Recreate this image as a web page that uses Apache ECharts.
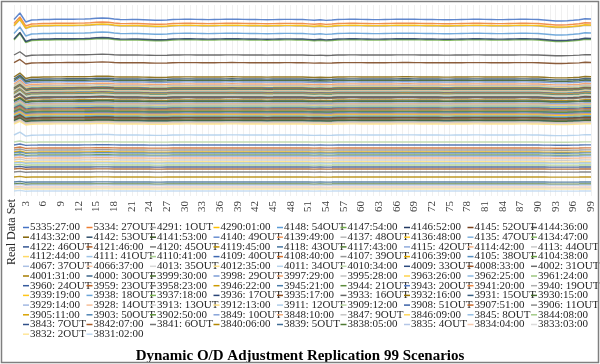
<!DOCTYPE html>
<html>
<head>
<meta charset="utf-8">
<script src="https://cdn.jsdelivr.net/npm/echarts@6/dist/echarts.min.js"></script>
<style>html,body{margin:0;padding:0;background:#fff}#c{width:600px;height:364px}</style>
</head>
<body>
<div id="c"></div>
<script>
// ---- DATA ----
const categories = ['1','2','3','4','5','6','7','8','9','10','11','12','13','14','15','16','17','18','19','20','21','22','23','24','25','26','27','28','29','30','31','32','33','34','35','36','37','38','39','40','41','42','43','44','45','46','47','48','49','50','51','52','53','54','55','56','57','58','59','60','61','62','63','64','65','66','67','68','69','70','71','72','73','74','75','76','77','78','79','80','81','82','83','84','85','86','87','88','89','90','91','92','93','94','95','96','97','98','99'];

const seriesNames = [
'5335:27:00','5334: 27OUT','4291: 1OUT','4290:01:00','4148: 54OUT','4147:54:00','4146:52:00','4145: 52OUT','4144:36:00',
'4143:32:00','4142: 53OUT','4141:53:00','4140: 49OUT','4139:49:00','4137: 48OUT','4136:48:00','4135: 47OUT','4134:47:00',
'4122: 46OUT','4121:46:00','4120: 45OUT','4119:45:00','4118: 43OUT','4117:43:00','4115: 42OUT','4114:42:00','4113: 44OUT',
'4112:44:00','4111: 41OUT','4110:41:00','4109: 40OUT','4108:40:00','4107: 39OUT','4106:39:00','4105: 38OUT','4104:38:00',
'4067: 37OUT','4066:37:00','4013: 35OUT','4012:35:00','4011: 34OUT','4010:34:00','4009: 33OUT','4008:33:00','4002: 31OUT',
'4001:31:00','4000: 30OUT','3999:30:00','3998: 29OUT','3997:29:00','3995:28:00','3963:26:00','3962:25:00','3961:24:00',
'3960: 24OUT','3959: 23OUT','3958:23:00','3946:22:00','3945:21:00','3944: 21OUT','3943: 20OUT','3941:20:00','3940: 19OUT',
'3939:19:00','3938: 18OUT','3937:18:00','3936: 17OUT','3935:17:00','3933: 16OUT','3932:16:00','3931: 15OUT','3930:15:00',
'3929:14:00','3928: 14OUT','3913: 13OUT','3912:13:00','3911: 12OUT','3909:12:00','3908: 51OUT','3907:51:00','3906: 11OUT',
'3905:11:00','3903: 50OUT','3902:50:00','3849: 10OUT','3848:10:00','3847: 9OUT','3846:09:00','3845: 8OUT','3844:08:00',
'3843: 7OUT','3842:07:00','3841: 6OUT','3840:06:00','3839: 5OUT','3838:05:00','3835: 4OUT','3834:04:00','3833:03:00',
'3832: 2OUT','3831:02:00'
];

// base level of each series
const seriesLevels = [
176.5,172.5,170,170.5,162.5,156,157,133.3,141,
119,117,115.5,114,112,110.5,
109,108.5,108,107.8,107.5,107,106.5,106.3,106,105.5,105.3,105,104.5,104,103.8,103.5,103,102.5,102.3,102,101.5,101,100.8,100.5,100,99.8,99.5,99,98.5,98,
96,95,94.5,93,92,91.5,90.5,90,89,88,87,
86,85,84.5,84,83,82,81.5,81,80,79,78.5,78,77,76,75.5,75,74,73.5,73,72,
61,54,51,48,46,44,43,41,40,38,36,34,33,31,29,27,24,19,14,12,11,9,8,7,5
];

// how strongly each series follows the common run-to-run movement
const seriesSwing = [
1,1,1,1,1,1,1,0.5,0.5,
0.6,0.6,0.6,0.6,0.6,0.6,
0.55,0.55,0.55,0.55,0.55,0.55,0.55,0.55,0.55,0.55,0.55,0.55,0.55,0.55,0.55,0.55,0.55,0.55,0.55,0.55,0.55,0.55,0.55,0.55,0.55,0.55,0.55,0.55,0.55,0.55,
0.45,0.45,0.45,0.45,0.45,0.45,0.45,0.45,0.45,0.45,0.45,
0.4,0.4,0.4,0.4,0.4,0.4,0.4,0.4,0.4,0.4,0.4,0.4,0.4,0.4,0.4,0.4,0.4,0.4,0.4,0.4,
0.45,0.15,0.15,0.15,0.15,0.15,0.15,0.15,0.15,0.15,0.15,0.1,0.1,0.1,0.1,0.1,0.1,0.1,0.1,0.1,0.1,0.1,0.1,0.1,0.1
];

// common movement across the 99 replications
const runMovement = [
0,6.5,-2.5,-0.5,
-0.3,0,0,0.2,0.2,0.3,0.3,0.4,0.5,0.7,
1.2,1.5,1.2,0.5,
0,-0.1,0,0,-0.2,-0.5,
-0.8,-0.8,-0.5,
0,0.1,0.2,0.2,0.1,0,-0.1,0,0.1,0.2,0.3,0.2,0.1,0,0,-0.1,-0.2,-0.1,0,0.1,0.1,0,0,
-0.4,-0.8,-0.3,-0.9,-0.5,0,
0.1,0.2,0.2,0.1,0,-0.1,-0.1,0,0.1,0.2,0.3,0.3,0.2,0.1,0,0,-0.1,-0.2,-0.2,-0.1,0,0.1,0.2,0.2,0.1,0,-0.1,-0.1,0,0.1,0.2,0.2,0.1,0,
-0.5,-1,-1.5,-1.5,-1.2,-0.8,-0.3,
0.8,0.5
];

// ---- STYLE ----
const accents = ['#4472C4','#ED7D31','#A5A5A5','#FFC000','#5B9BD5','#70AD47'];
const shades = [0,-0.5,0.2,-0.25,0.4,-0.1,0.55,-0.35,0.3,-0.2,0.1,-0.4,0.5,-0.15,0.35,-0.3,0.6];
function shade(hex, f){
  const n = parseInt(hex.slice(1),16);
  let r=(n>>16)&255, g=(n>>8)&255, b=n&255;
  const t = c => f<0 ? Math.round(c*(1+f)) : Math.round(c+(255-c)*f);
  r=t(r); g=t(g); b=t(b);
  return '#'+[r,g,b].map(v=>v.toString(16).padStart(2,'0')).join('');
}
const colors = seriesNames.map((_,i)=>shade(accents[i%6], shades[Math.floor(i/6)%shades.length]));

const FONT = '"Liberation Serif","Times New Roman",serif';

const series = seriesNames.map((name,i)=>({
  name, type:'line', showSymbol:false, symbol:'none',
  data: runMovement.map(m => +(seriesLevels[i] + m*seriesSwing[i]).toFixed(2)),
  lineStyle:{width:1.4, color:colors[i], opacity:0.85}, itemStyle:{color:colors[i]},
  emphasis:{disabled:true}, z: 2
}));

const legends = [];
for(let k=0;k<9;k++){
  legends.push({
    orient:'vertical', left: 23 + 63.5*k, top: 222, padding:0,
    itemGap:-1.3, itemWidth:6, itemHeight:1.5, icon:'rect',
    textStyle:{fontFamily:FONT, fontSize:11, color:'#262626', lineHeight:10, padding:[0,0,0,-4]},
    data: seriesNames.filter((_,i)=>i%9===k)
  });
}

const chart = echarts.init(document.getElementById('c'), null, {renderer:'canvas'});
chart.setOption({
  animation:false,
  backgroundColor:'#ffffff',
  color: colors,
  title:{text:'Dynamic O/D Adjustment Replication 99 Scenarios', left:'center', top:344,
    textStyle:{fontFamily:FONT, fontWeight:'bold', fontSize:15, color:'#000'}},
  grid:{left:14, right:9, top:5, bottom:168, containLabel:false},
  xAxis:{type:'category', data:categories, boundaryGap:false,
    axisLine:{show:false}, axisTick:{show:false},
    axisLabel:{rotate:90, interval:(i)=>(i+1)%3===0, fontFamily:FONT, fontSize:11, color:'#404040', margin:5},
    splitLine:{show:true, interval:0, lineStyle:{color:'#f0f0f0', width:1}}},
  yAxis:{type:'value', min:0, max:191, show:false, splitLine:{show:false}},
  legend: legends,
  series,
  graphic:[
    {type:'rect', shape:{x:1.5,y:1.5,width:597,height:361}, style:{fill:null, stroke:'#7f7f7f', lineWidth:1.5}, silent:true, z:100},
    {type:'text', x:12, y:232, rotation:Math.PI/2, style:{text:'Real Data Set', font:'12px '+FONT, fill:'#262626', textAlign:'center', textVerticalAlign:'middle'}}
  ]
});
</script>
</body>
</html>
